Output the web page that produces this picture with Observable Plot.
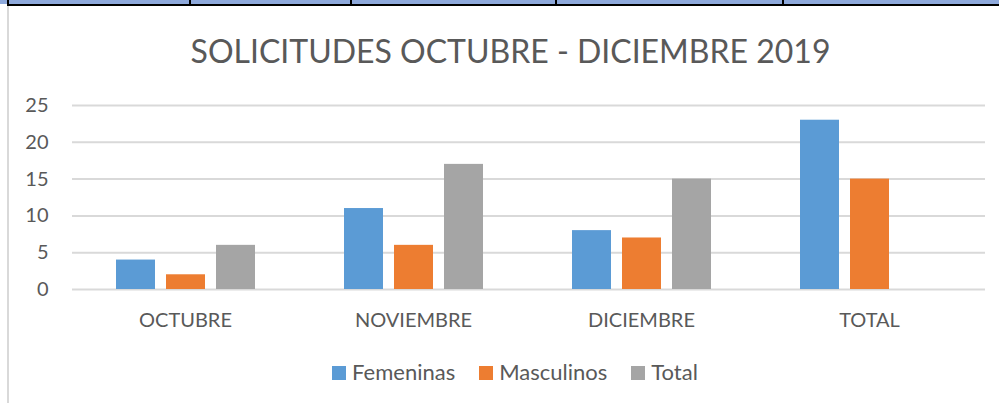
<!DOCTYPE html>
<html><head><meta charset="utf-8">
<script src="https://cdn.jsdelivr.net/npm/d3@7"></script>
<script src="https://cdn.jsdelivr.net/npm/@observablehq/plot@0.6"></script>
<style>
body{margin:0;background:#fff;}
#wrap{position:relative;width:999px;height:403px;overflow:hidden;font-family:Lato,sans-serif;color:#595959;background:#fff;}
#band{position:absolute;left:0;top:0;width:999px;height:4px;background:#8EA9DB;}
#bandline{position:absolute;left:7px;top:4px;width:992px;height:2px;background:#000;}
.sep{position:absolute;top:0;width:2px;height:6px;background:#000;}
#leftline{position:absolute;left:7px;top:6px;width:2px;height:397px;background:#D9D9D9;}
#title{position:absolute;left:0;width:1021px;text-align:center;font-size:32px;line-height:32px;top:35px;white-space:nowrap;color:#595959;}
.layer{position:absolute;left:0;top:90px;}
#legend{position:absolute;left:0;width:1030px;top:361px;display:flex;justify-content:center;font-size:22px;line-height:22px;white-space:nowrap;}
.item{margin:0 12px;}
.sw{display:inline-block;width:14px;height:14px;margin-right:6px;vertical-align:baseline;}
</style></head><body>
<div id="wrap">
  <div id="band"></div>
  <div id="bandline"></div>
  <div class="sep" style="left:7px"></div>
  <div class="sep" style="left:189px"></div>
  <div class="sep" style="left:350px"></div>
  <div class="sep" style="left:555px"></div>
  <div class="sep" style="left:782px"></div>
  <div id="leftline"></div>
  <div id="title">SOLICITUDES OCTUBRE - DICIEMBRE 2019</div>
  <div id="bg" class="layer"></div>
  <div id="fg" class="layer"></div>
  <div id="legend"></div>
</div>
<script>
const categories = ["OCTUBRE", "NOVIEMBRE", "DICIEMBRE", "TOTAL"];
const series = ["Femeninas", "Masculinos", "Total"];
const femeninas = [4, 11, 8, 23];
const masculinos = [2, 6, 7, 15];
const total = [6, 17, 15, null];
const yTicks = [0, 5, 10, 15, 20, 25];
const colors = ["#5B9BD5", "#ED7D31", "#A5A5A5"];

const seriesValues = [femeninas, masculinos, total];
const rows = categories.flatMap((c, i) => series.map((s, j) => ({category: c, series: s, value: seriesValues[j][i]})));

const common = {width: 999, height: 250, marginLeft: 72, marginRight: 14, marginTop: 15, marginBottom: 51};
const style = {background: "transparent", fontFamily: "Lato, sans-serif", fontSize: "20px", color: "#595959", overflow: "visible"};

const bg = Plot.plot({
  ...common, style,
  x: {axis: null},
  y: {domain: [0, 25], ticks: yTicks, tickSize: 0, tickPadding: 24, label: null},
  marks: [Plot.ruleY(yTicks, {stroke: "#D9D9D9", strokeWidth: 2})]
});
document.getElementById("bg").appendChild(bg);

const fg = Plot.plot({
  ...common, style,
  fx: {domain: categories, paddingInner: 0.386, paddingOuter: 0.193, align: 0.485, axis: "bottom", tickSize: 0, tickPadding: 23, label: null},
  x: {domain: series, paddingInner: 0.228, paddingOuter: 0, axis: null},
  y: {domain: [0, 25], axis: null},
  color: {domain: series, range: colors},
  marks: [Plot.barY(rows, {fx: "category", x: "series", y: "value", fill: "series"})]
});
document.getElementById("fg").appendChild(fg);

const legend = document.getElementById("legend");
series.forEach((s, i) => {
  const it = document.createElement("span");
  it.className = "item";
  const sw = document.createElement("span");
  sw.className = "sw";
  sw.style.background = colors[i];
  it.appendChild(sw);
  it.appendChild(document.createTextNode(s));
  legend.appendChild(it);
});
</script>
</body></html>
